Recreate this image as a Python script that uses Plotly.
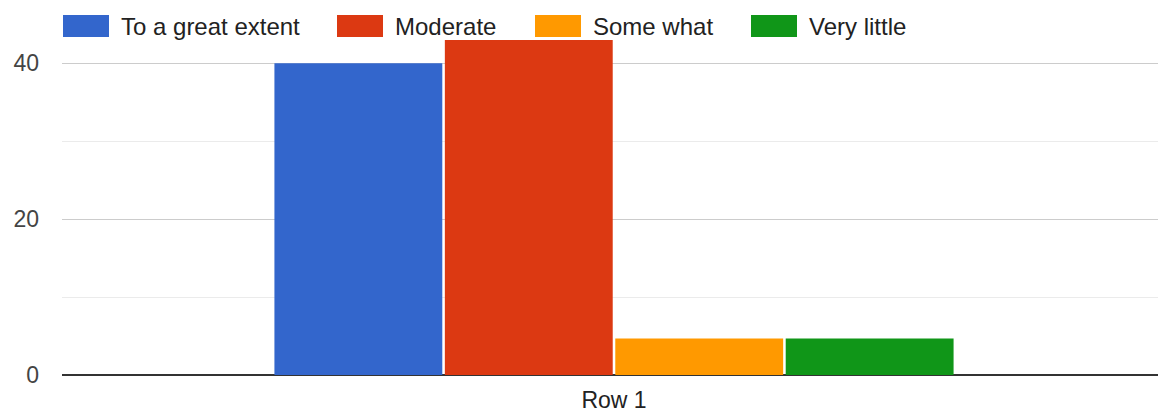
import plotly.graph_objects as go

categories = ["Row 1"]
series_names = ["To a great extent", "Moderate", "Some what", "Very little"]
series_values = [[40], [43], [4.7], [4.7]]
series_colors = ["#3366cc", "#dc3912", "#ff9900", "#109618"]
y_tick_values = [0, 20, 40]

W, H = 1158, 413
ML, MR, MT, MB = 62, 0, 40, 38
PW, PH = W - ML - MR, H - MT - MB
FONT = "Arial, Liberation Sans, sans-serif"

fig = go.Figure()
for name, vals, col in zip(series_names, series_values, series_colors):
    fig.add_trace(go.Bar(x=categories, y=vals, name=name, marker=dict(color=col, line=dict(width=0)),
                         showlegend=False))

def px_x(p):
    return (p - ML) / PW

def px_y(p):
    return (H - MB - p) / PH

# custom legend (large swatches like the reference)
legend_starts = [63, 337, 535, 751]
sw_w, sw_top, sw_bot = 46, 15, 37
shapes = []
annotations = []
for start, name, col in zip(legend_starts, series_names, series_colors):
    shapes.append(dict(type="rect", xref="paper", yref="paper",
                       x0=px_x(start), x1=px_x(start + sw_w),
                       y0=px_y(sw_bot), y1=px_y(sw_top),
                       fillcolor=col, line=dict(width=0)))
    annotations.append(dict(xref="paper", yref="paper", x=px_x(start + sw_w + 10), y=px_y(26),
                            xanchor="left", yanchor="middle", text=name, showarrow=False,
                            font=dict(family=FONT, size=24, color="#222222")))

shift = 4 / PW  # group sits slightly right of centre in the reference

fig.update_layout(
    width=W, height=H,
    margin=dict(l=ML, r=MR, t=MT, b=MB, pad=0),
    paper_bgcolor="white", plot_bgcolor="white",
    barmode="group", bargap=0.378, bargroupgap=0.015,
    font=dict(family=FONT, size=23, color="#444444"),
    shapes=shapes, annotations=annotations,
    xaxis=dict(range=[-0.5 - shift, 0.5 - shift], showgrid=False, showline=False, ticks="",
               zeroline=False, ticklabelstandoff=9,
               tickfont=dict(family=FONT, size=23, color="#222222")),
    yaxis=dict(range=[0, 43], tickvals=y_tick_values, showgrid=True, gridcolor="#cccccc", gridwidth=1,
               minor=dict(dtick=10, showgrid=True, gridcolor="#ebebeb", gridwidth=1),
               zeroline=True, zerolinecolor="#333333", zerolinewidth=2,
               ticks="", ticklabelstandoff=22, showline=False,
               tickfont=dict(family=FONT, size=23, color="#444444")),
)

fig.write_html("out.html", config={"displayModeBar": False},
               post_script="document.body.style.margin='0';document.body.style.overflow='hidden';")
